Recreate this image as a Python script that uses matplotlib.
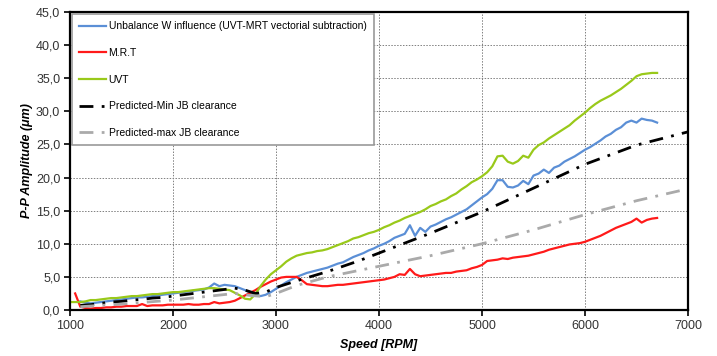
import numpy as np
import matplotlib
matplotlib.use('Agg')
import matplotlib.pyplot as plt
from matplotlib.ticker import FuncFormatter, MultipleLocator

plt.rcParams['font.family'] = ['Liberation Sans', 'DejaVu Sans']

# ==================== Data ====================
nan = np.nan

# measured speed grid [RPM]
speed = [1000, 1050, 1100, 1150, 1200, 1250, 1300, 1350, 1400, 1450,
         1500, 1550, 1600, 1650, 1700, 1750, 1800, 1850, 1900, 1950,
         2000, 2050, 2100, 2150, 2200, 2250, 2300, 2350, 2400, 2450,
         2500, 2550, 2600, 2650, 2700, 2750, 2800, 2850, 2900, 2950,
         3000, 3050, 3100, 3150, 3200, 3250, 3300, 3350, 3400, 3450,
         3500, 3550, 3600, 3650, 3700, 3750, 3800, 3850, 3900, 3950,
         4000, 4050, 4100, 4150, 4200, 4250, 4300, 4350, 4400, 4450,
         4500, 4550, 4600, 4650, 4700, 4750, 4800, 4850, 4900, 4950,
         5000, 5050, 5100, 5150, 5200, 5250, 5300, 5350, 5400, 5450,
         5500, 5550, 5600, 5650, 5700, 5750, 5800, 5850, 5900, 5950,
         6000, 6050, 6100, 6150, 6200, 6250, 6300, 6350, 6400, 6450,
         6500, 6550, 6600, 6650, 6700]

unbalance = [nan, nan, 1.3, 1.1, 1.0, 1.1, 1.2, 1.3, 1.4, 1.5,
             1.6, 1.7, 1.8, 1.9, 1.9, 2.0, 2.1, 2.2, 2.3, 2.4,
             2.5, 2.6, 2.7, 2.8, 2.9, 3.0, 3.1, 3.4, 4.0, 3.6,
             3.8, 3.7, 3.6, 3.3, 3.0, 2.6, 2.3, 2.1, 2.3, 2.7,
             3.2, 3.7, 4.2, 4.6, 5.0, 5.3, 5.6, 5.8, 6.0, 6.2,
             6.4, 6.7, 7.0, 7.2, 7.6, 8.0, 8.3, 8.6, 9.0, 9.3,
             9.7, 10.0, 10.4, 10.9, 11.2, 11.5, 12.8, 11.2, 12.4, 11.8,
             12.6, 12.9, 13.3, 13.7, 14.0, 14.4, 14.8, 15.2, 15.8, 16.4,
             17.0, 17.5, 18.3, 19.6, 19.6, 18.6, 18.5, 18.8, 19.5, 19.0,
             20.3, 20.6, 21.2, 20.7, 21.5, 21.8, 22.4, 22.8, 23.2, 23.7,
             24.2, 24.6, 25.1, 25.6, 26.2, 26.6, 27.2, 27.6, 28.3, 28.6,
             28.3, 28.9, 28.7, 28.6, 28.3]

mrt = [nan, 2.5, 0.5, 0.3, 0.2, 0.3, 0.3, 0.4, 0.4, 0.5,
       0.5, 0.6, 0.6, 0.6, 0.9, 0.6, 0.7, 0.7, 0.7, 0.8,
       0.8, 0.8, 0.8, 0.9, 0.8, 0.8, 0.9, 0.9, 1.2, 1.0,
       1.1, 1.2, 1.4, 1.8, 2.2, 2.6, 3.0, 3.5, 3.9, 4.3,
       4.6, 4.9, 5.0, 5.0, 5.0, 4.5, 3.9, 3.8, 3.7, 3.6,
       3.6, 3.7, 3.8, 3.8, 3.9, 4.0, 4.1, 4.2, 4.3, 4.4,
       4.5, 4.6, 4.8, 5.0, 5.4, 5.3, 6.2, 5.4, 5.1, 5.2,
       5.3, 5.4, 5.5, 5.6, 5.6, 5.8, 5.9, 6.0, 6.3, 6.5,
       6.8, 7.4, 7.5, 7.6, 7.8, 7.7, 7.9, 8.0, 8.1, 8.2,
       8.4, 8.6, 8.8, 9.1, 9.3, 9.5, 9.7, 9.9, 10.0, 10.1,
       10.3, 10.6, 10.9, 11.2, 11.6, 12.0, 12.4, 12.7, 13.0, 13.3,
       13.8, 13.2, 13.6, 13.8, 13.9]

uvt = [1.2, 1.2, 1.2, 1.3, 1.5, 1.5, 1.6, 1.7, 1.8, 1.8,
       1.9, 2.0, 2.1, 2.1, 2.2, 2.3, 2.4, 2.4, 2.5, 2.6,
       2.7, 2.7, 2.8, 2.9, 3.0, 3.1, 3.2, 3.3, 3.3, 3.2,
       3.1, 3.0, 2.6, 2.2, 1.7, 1.6, 2.4, 3.6, 4.6, 5.4,
       6.0, 6.6, 7.3, 7.8, 8.2, 8.4, 8.6, 8.7, 8.9, 9.0,
       9.2, 9.5, 9.8, 10.1, 10.4, 10.8, 11.0, 11.3, 11.6, 11.8,
       12.1, 12.5, 12.8, 13.2, 13.5, 13.9, 14.2, 14.5, 14.8, 15.2,
       15.7, 16.0, 16.4, 16.7, 17.2, 17.6, 18.2, 18.7, 19.3, 19.7,
       20.2, 20.8, 21.7, 23.2, 23.3, 22.4, 22.1, 22.5, 23.3, 23.0,
       24.2, 24.9, 25.3, 25.9, 26.4, 26.9, 27.4, 27.9, 28.6, 29.2,
       29.8, 30.5, 31.1, 31.6, 32.0, 32.4, 32.9, 33.4, 34.0, 34.6,
       35.3, 35.6, 35.7, 35.8, 35.8]

# predicted curves
min_speed = [1100, 1200, 1300, 1400, 1500, 1600, 1700, 1800, 1900, 2000,
             2100, 2200, 2300, 2400, 2500, 2600, 2700, 2800, 2900, 3000,
             3200, 3500, 3800, 4000, 4500, 5000, 5500, 6000, 6500, 7000]
min_amp = [0.7, 0.8, 1.0, 1.2, 1.3, 1.5, 1.6, 1.8, 1.9, 2.1,
           2.3, 2.5, 2.7, 2.9, 3.1, 3.3, 3.0, 2.5, 2.7, 3.4,
           4.4, 5.8, 7.4, 8.6, 11.6, 14.8, 18.4, 22.0, 24.9, 26.9]

max_speed = [1100, 1500, 2000, 2300, 2600, 2750, 2900, 3000, 3200, 3500,
             4000, 4500, 5000, 5500, 6000, 6500, 7000]
max_amp = [0.5, 0.9, 1.5, 2.0, 2.5, 2.2, 2.0, 2.5, 3.7, 5.0,
           6.6, 8.2, 10.0, 12.1, 14.4, 16.5, 18.3]

# Colors
C_BLUE = '#5B8FD6'
C_RED = '#FF1A1A'
C_GREEN = '#99C91A'
C_BLACK = '#000000'
C_GRAY = '#AAAAAA'

fig = plt.figure(figsize=(7.17, 3.56), dpi=100)
ax = fig.add_axes([70 / 717, 1 - 310 / 356, 618 / 717, 298 / 356])

dashdot = (0, (5, 3, 1, 3))
ax.plot(speed, unbalance, color=C_BLUE, lw=1.6,
        label='Unbalance W influence (UVT-MRT vectorial subtraction)')
ax.plot(speed, mrt, color=C_RED, lw=1.6, label='M.R.T')
ax.plot(speed, uvt, color=C_GREEN, lw=1.6, label='UVT')
ax.plot(min_speed, min_amp, color=C_BLACK, lw=2, linestyle=dashdot,
        label='Predicted-Min JB clearance')
ax.plot(max_speed, max_amp, color=C_GRAY, lw=2, linestyle=dashdot,
        label='Predicted-max JB clearance')

ax.set_xlim(1000, 7000)
ax.set_ylim(0, 45)
ax.xaxis.set_major_locator(MultipleLocator(1000))
ax.yaxis.set_major_locator(MultipleLocator(5))
ax.yaxis.set_major_formatter(FuncFormatter(lambda v, p: f'{v:.1f}'.replace('.', ',')))

ax.grid(True, linestyle=(0, (1.5, 1.5)), linewidth=0.7, color='#808080')
ax.set_axisbelow(True)
for s in ax.spines.values():
    s.set_linewidth(1.6)
    s.set_color('black')
ax.tick_params(axis='both', direction='out', length=4, width=1.2,
               labelsize=9, labelcolor='#333333', pad=3)

ax.set_xlabel('Speed [RPM]', fontsize=9, fontweight='bold', style='italic', labelpad=5)
ax.set_ylabel('P-P Amplitude (\u03bcm)', fontsize=9, fontweight='bold', style='italic', labelpad=2)

leg = ax.legend(loc='upper left', fontsize=7.5, frameon=True, fancybox=False,
                edgecolor='#999999', framealpha=1, labelspacing=1.6,
                handlelength=2.6, handletextpad=0.2, borderaxespad=0.2,
                borderpad=0.7)
leg.get_frame().set_linewidth(1.2)

fig.savefig('out.png', dpi=100, facecolor='white')
